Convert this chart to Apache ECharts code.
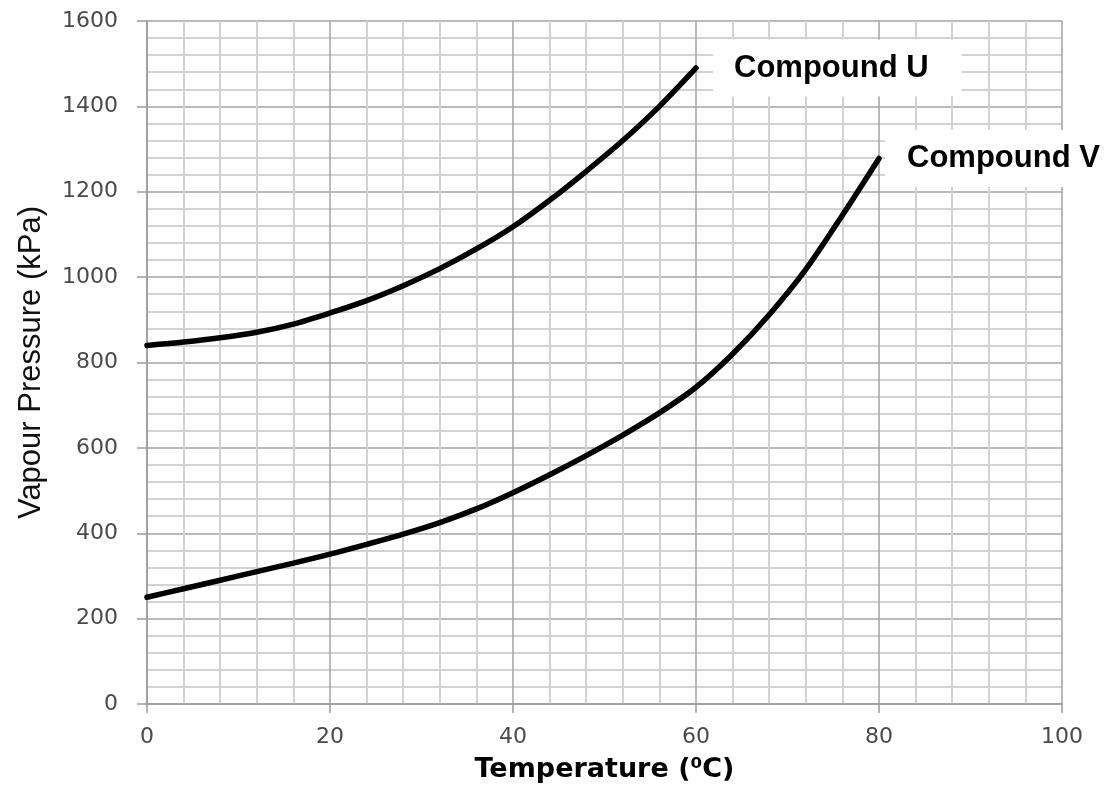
<!DOCTYPE html>
<html>
<head>
<meta charset="utf-8">
<script src="https://cdn.jsdelivr.net/npm/echarts@6/dist/echarts.min.js"></script>
<style>
html,body{margin:0;padding:0;background:#fff;}
#chart{width:1107px;height:789px;}
</style>
</head>
<body>
<div id="chart"></div>
<script>
// Data
const temperatureU = [0, 4, 8, 12, 16, 20, 24, 28, 32, 36, 40, 44, 48, 52, 56, 60];
const pressureU = [840, 848, 858, 871, 890, 916, 945, 980, 1020, 1066, 1118, 1180, 1248, 1320, 1400, 1490];
const temperatureV = [0, 4, 8, 12, 16, 20, 24, 28, 32, 36, 40, 44, 48, 52, 56, 60, 64, 68, 72, 76, 80];
const pressureV = [250, 270, 290, 310, 330, 351, 374, 398, 425, 457, 495, 537, 582, 630, 682, 742, 820, 912, 1018, 1145, 1278];
const seriesNames = ['Compound U', 'Compound V'];
const xTitle = 'Temperature (⁰C)';
const yTitle = 'Vapour Pressure (kPa)';

const chart = echarts.init(document.getElementById('chart'));

function pairs(xs, ys) { return xs.map((x, i) => [x, ys[i]]); }

const labelBase = {
  show: true,
  formatter: '{a}',
  color: '#000',
  fontFamily: 'Liberation Sans, Arial, sans-serif',
  fontWeight: 'bold',
  fontSize: 31,
  backgroundColor: '#fff'
};

chart.setOption({
  animation: false,
  backgroundColor: '#fff',
  grid: { left: 147, right: 45, top: 21, bottom: 85, containLabel: false },
  xAxis: {
    type: 'value', min: 0, max: 100, interval: 20,
    name: xTitle, nameLocation: 'middle', nameGap: 52,
    nameTextStyle: { fontFamily: 'DejaVu Sans', fontWeight: 'bold', fontSize: 27, color: '#000' },
    axisLine: { show: true, lineStyle: { color: '#9a9a9a', width: 1.5 } },
    axisTick: { show: true, length: 9, lineStyle: { color: '#9a9a9a', width: 1.5 } },
    axisLabel: { margin: 22, fontFamily: 'DejaVu Sans', fontSize: 22, color: '#4a4a4a', formatter: v => String(v) },
    splitLine: { show: true, lineStyle: { color: '#a3a3a3', width: 1.5 } },
    minorTick: { show: true, splitNumber: 5, length: 0 },
    minorSplitLine: { show: true, lineStyle: { color: '#d2d2d2', width: 2 } }
  },
  yAxis: {
    type: 'value', min: 0, max: 1600, interval: 200,
    name: yTitle, nameLocation: 'middle', nameGap: 100, nameRotate: 90,
    nameTextStyle: { fontFamily: 'Liberation Sans, Arial, sans-serif', fontSize: 31, color: '#111' },
    axisLine: { show: true, lineStyle: { color: '#9a9a9a', width: 1.5 } },
    axisTick: { show: true, length: 10, lineStyle: { color: '#9a9a9a', width: 1.5 } },
    axisLabel: { margin: 29, fontFamily: 'DejaVu Sans', fontSize: 22, color: '#4a4a4a', formatter: v => String(v) },
    splitLine: { show: true, lineStyle: { color: '#a3a3a3', width: 1.5 } },
    minorTick: { show: true, splitNumber: 5, length: 0 },
    minorSplitLine: { show: true, lineStyle: { color: '#d2d2d2', width: 2 } }
  },
  series: [
    {
      name: seriesNames[0], type: 'line', data: pairs(temperatureU, pressureU),
      smooth: 0.3, symbol: 'none',
      lineStyle: { color: '#000', width: 5.5, cap: 'round' },
      endLabel: Object.assign({}, labelBase, { distance: 17, padding: [13, 33, 13, 21] }),
      z: 5
    },
    {
      name: seriesNames[1], type: 'line', data: pairs(temperatureV, pressureV),
      smooth: 0.3, symbol: 'none',
      lineStyle: { color: '#000', width: 5.5, cap: 'round' },
      endLabel: Object.assign({}, labelBase, { distance: 6, padding: [13, 30, 13, 22] }),
      z: 5
    }
  ]
});
</script>
</body>
</html>
